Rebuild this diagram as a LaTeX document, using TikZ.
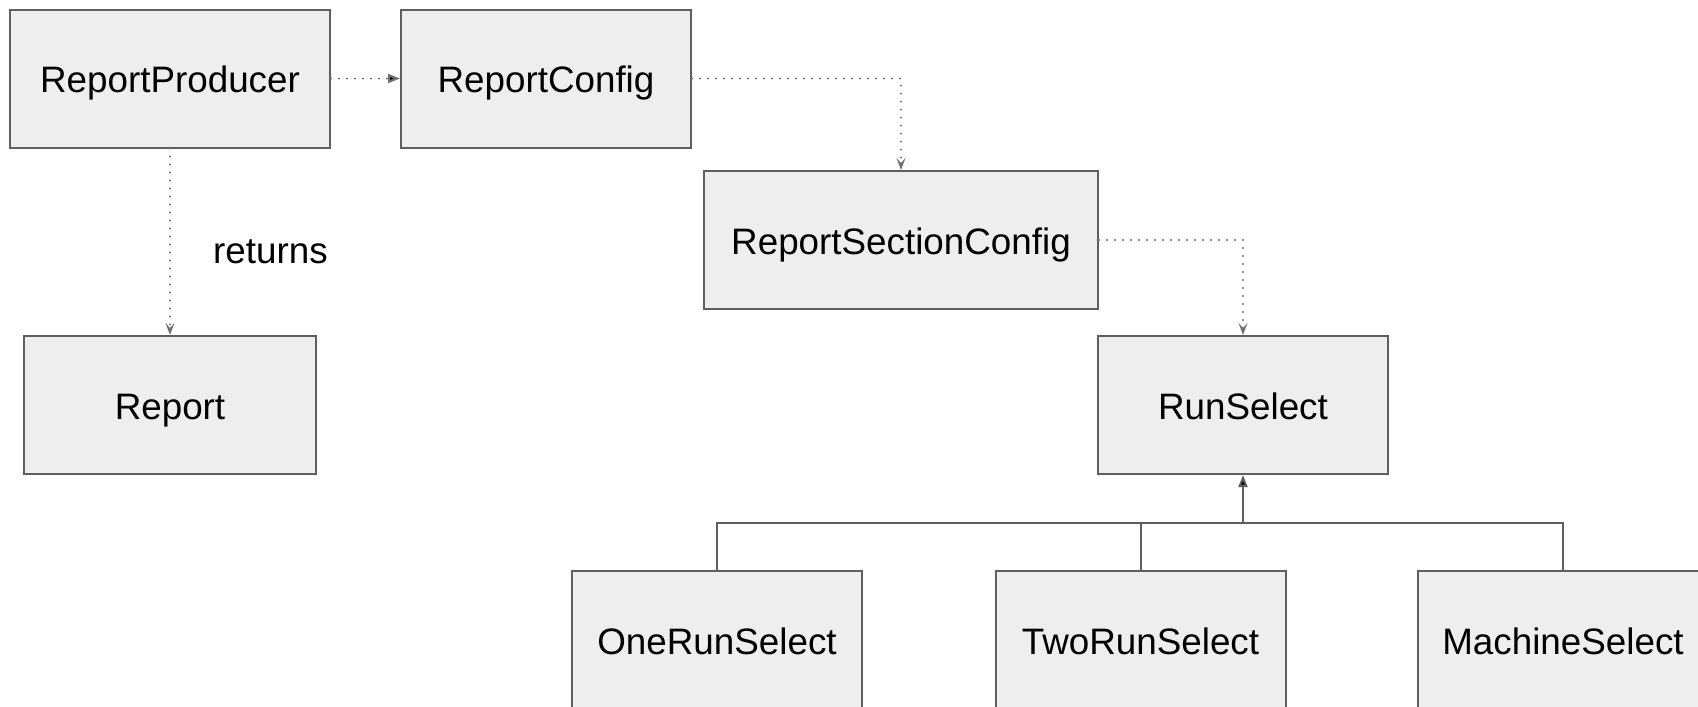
\documentclass[tikz,border=0pt]{standalone}
\usepackage{fontspec}
\setmainfont{Liberation Sans}
\usetikzlibrary{arrows.meta}
\definecolor{boxfill}{HTML}{EEEEEE}
\definecolor{boxline}{HTML}{5F5F5F}
\definecolor{dotline}{HTML}{707070}

\begin{document}
\begin{tikzpicture}[x=0.5pt,y=-0.5pt,
>={Triangle[length=6pt,width=4.5pt]},
txt/.style={font=\fontsize{18.4}{22}\selectfont,text height=14.2pt,text depth=0pt},
cls/.style={txt,draw=boxline,fill=boxfill,line width=1pt,
  minimum width=145pt,minimum height=69pt,inner sep=0pt},
uses/.style={draw=dotline,line width=1.1pt,line cap=round,
  dash pattern=on 0pt off 4pt},
vee/.style={-{Stealth[length=6pt,width=4.5pt,inset=2.5pt]}},
isa/.style={draw=boxline,line width=1pt}]
\useasboundingbox (0,0) rectangle (1698,707);
\node[cls,minimum width=160pt] (prod) at (170,78.5) {ReportProducer};
\node[cls] (config) at (546,78.5) {ReportConfig};
\node[cls,minimum width=197pt] (section) at (901,240) {ReportSectionConfig};
\node[cls,minimum width=146pt] (report) at (170,405) {Report};
\node[cls] (run) at (1243,405) {RunSelect};
\node[cls] (one) at (717,640) {OneRunSelect};
\node[cls] (two) at (1140.5,640) {TwoRunSelect};
\node[cls] (machine) at (1563,640) {MachineSelect};
\coordinate (bus) at (1243,523);
\path[uses]
(prod) edge[->] (config)
(prod) edge[vee] (report);
\draw[uses,vee] (config.east) -| (section.north);
\draw[uses,vee] (section.east) -| (run.north);
\node[txt] (ret) at (270.5,249) {returns};
\path[isa]
(one.north) |- (bus)
(two.north) |- (bus)
(machine.north) |- (bus)
(bus) edge[->] (run.south);
\end{tikzpicture}
\end{document}
